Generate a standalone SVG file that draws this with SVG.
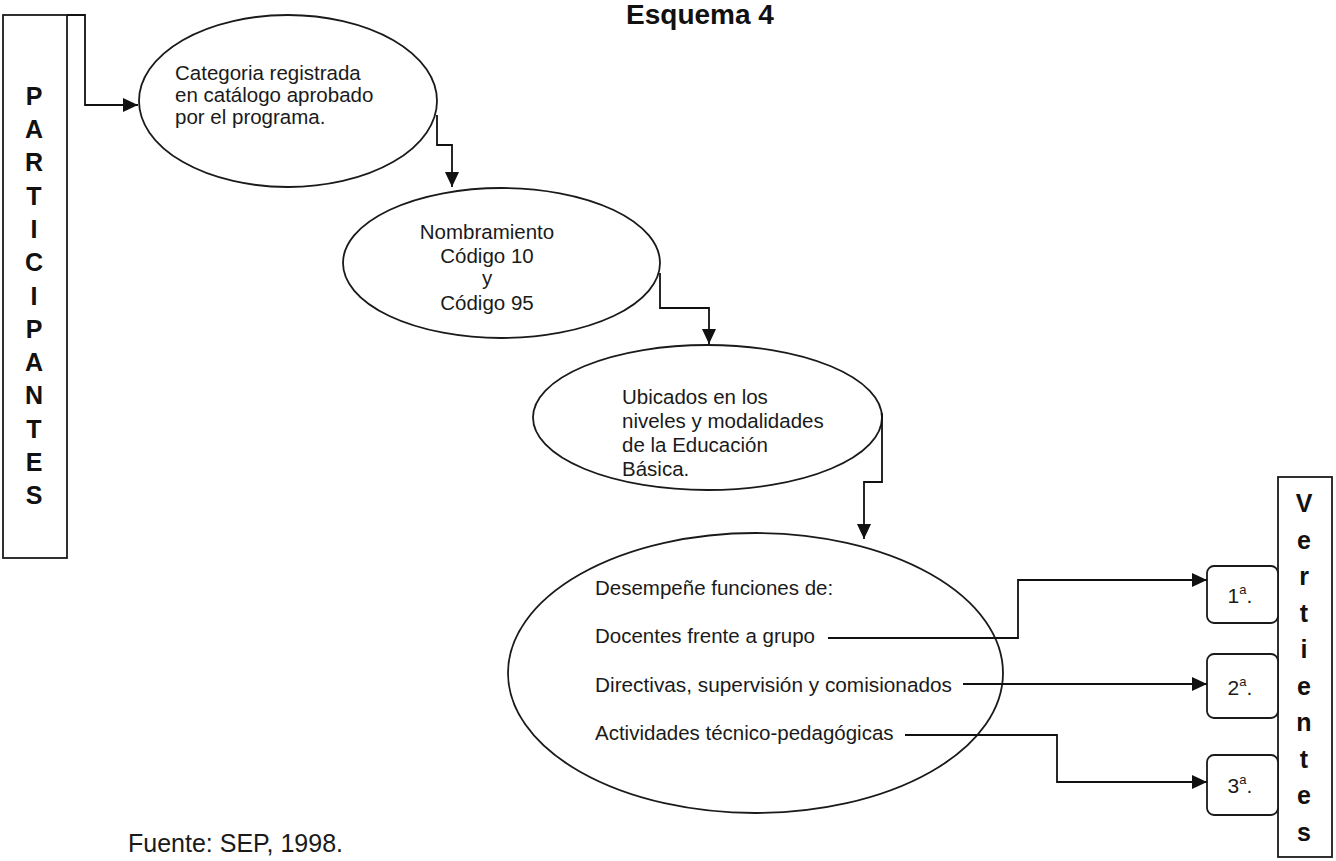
<svg xmlns="http://www.w3.org/2000/svg" width="1336" height="861" viewBox="0 0 1336 861">
<defs>
<marker id="arr" markerUnits="userSpaceOnUse" markerWidth="16" markerHeight="14" refX="15" refY="7" orient="auto">
<path d="M0,0 L15,7 L0,14 z" fill="#111"/>
</marker>
<style>
.shape{fill:#fff;stroke:#1a1a1a;stroke-width:1.8}
.conn{fill:none;stroke:#111;stroke-width:1.8}
.t{font-family:"Liberation Sans",Arial,sans-serif;font-size:20.5px;fill:#1a1a1a}
.v{font-family:"Liberation Sans",Arial,sans-serif;font-size:25px;font-weight:bold;fill:#111;text-anchor:middle}
.title{font-family:"Liberation Sans",Arial,sans-serif;font-size:28px;font-weight:bold;fill:#111;text-anchor:middle}
.small{font-family:"Liberation Sans",Arial,sans-serif;font-size:21px;fill:#1a1a1a;text-anchor:middle}
</style>
</defs>
<rect width="1336" height="861" fill="#fff"/>
<text class="title" x="700" y="24">Esquema 4</text>

<g id="participantes">
<rect class="shape" x="3" y="15" width="64" height="543"/>
<text class="v" x="34" y="105">P</text>
<text class="v" x="34" y="138">A</text>
<text class="v" x="34" y="171">R</text>
<text class="v" x="34" y="205">T</text>
<text class="v" x="34" y="238">I</text>
<text class="v" x="34" y="271">C</text>
<text class="v" x="34" y="305">I</text>
<text class="v" x="34" y="338">P</text>
<text class="v" x="34" y="371">A</text>
<text class="v" x="34" y="404">N</text>
<text class="v" x="34" y="438">T</text>
<text class="v" x="34" y="471">E</text>
<text class="v" x="34" y="504">S</text>
</g>

<g id="categoria">
<ellipse class="shape" cx="288" cy="101" rx="149" ry="86"/>
<text class="t" x="175" y="80">Categoria registrada</text>
<text class="t" x="175" y="102">en catálogo aprobado</text>
<text class="t" x="175" y="124">por el programa.</text>
</g>

<g id="nombramiento">
<ellipse class="shape" cx="501.5" cy="263" rx="158.5" ry="75"/>
<text class="t" x="487" y="239" text-anchor="middle">Nombramiento</text>
<text class="t" x="487" y="263" text-anchor="middle">Código 10</text>
<text class="t" x="487" y="285" text-anchor="middle">y</text>
<text class="t" x="487" y="310" text-anchor="middle">Código 95</text>
</g>

<g id="ubicados">
<ellipse class="shape" cx="707.5" cy="417.5" rx="174.5" ry="72.5"/>
<text class="t" x="622" y="404">Ubicados en los</text>
<text class="t" x="622" y="428">niveles y modalidades</text>
<text class="t" x="622" y="452">de la Educación</text>
<text class="t" x="622" y="476">Básica.</text>
</g>

<g id="desempene">
<ellipse class="shape" cx="755.5" cy="673" rx="247.5" ry="140"/>
<text class="t" x="595" y="595">Desempeñe funciones de:</text>
<text class="t" x="595" y="643">Docentes frente a grupo</text>
<text class="t" x="595" y="692" textLength="357" lengthAdjust="spacingAndGlyphs">Directivas, supervisión y comisionados</text>
<text class="t" x="595" y="740">Actividades técnico-pedagógicas</text>
</g>

<g id="vertientes">
<rect class="shape" x="1278" y="477" width="54" height="380"/>
<text class="v" x="1304" y="512">V</text>
<text class="v" x="1304" y="548.5">e</text>
<text class="v" x="1304" y="585">r</text>
<text class="v" x="1304" y="621.5">t</text>
<text class="v" x="1304" y="658">i</text>
<text class="v" x="1304" y="694.5">e</text>
<text class="v" x="1304" y="731">n</text>
<text class="v" x="1304" y="767.5">t</text>
<text class="v" x="1304" y="804">e</text>
<text class="v" x="1304" y="840.5">s</text>
</g>

<g id="v1">
<rect class="shape" x="1207" y="566" width="71" height="57" rx="7"/>
<text class="small" x="1240" y="603">1<tspan font-size="13" dy="-9">a</tspan><tspan dy="9">.</tspan></text>
</g>
<g id="v2">
<rect class="shape" x="1207" y="654" width="71" height="64" rx="7"/>
<text class="small" x="1240" y="695">2<tspan font-size="13" dy="-9">a</tspan><tspan dy="9">.</tspan></text>
</g>
<g id="v3">
<rect class="shape" x="1207" y="755" width="71" height="60" rx="7"/>
<text class="small" x="1240" y="793">3<tspan font-size="13" dy="-9">a</tspan><tspan dy="9">.</tspan></text>
</g>

<g id="connectors">
<path class="conn" d="M67,15 H85 V105 H138" marker-end="url(#arr)"/>
<path class="conn" d="M437,115 V145 H452 V187" marker-end="url(#arr)"/>
<path class="conn" d="M660,273 V308 H709 V344" marker-end="url(#arr)"/>
<path class="conn" d="M882,413 V482 H864 V539" marker-end="url(#arr)"/>
<path class="conn" d="M828,638 H1018 V580 H1207" marker-end="url(#arr)"/>
<path class="conn" d="M963,684 H1207" marker-end="url(#arr)"/>
<path class="conn" d="M905,735 H1057 V782 H1207" marker-end="url(#arr)"/>
</g>

<text class="t" x="128" y="852" style="font-size:25px">Fuente: SEP, 1998.</text>
</svg>
